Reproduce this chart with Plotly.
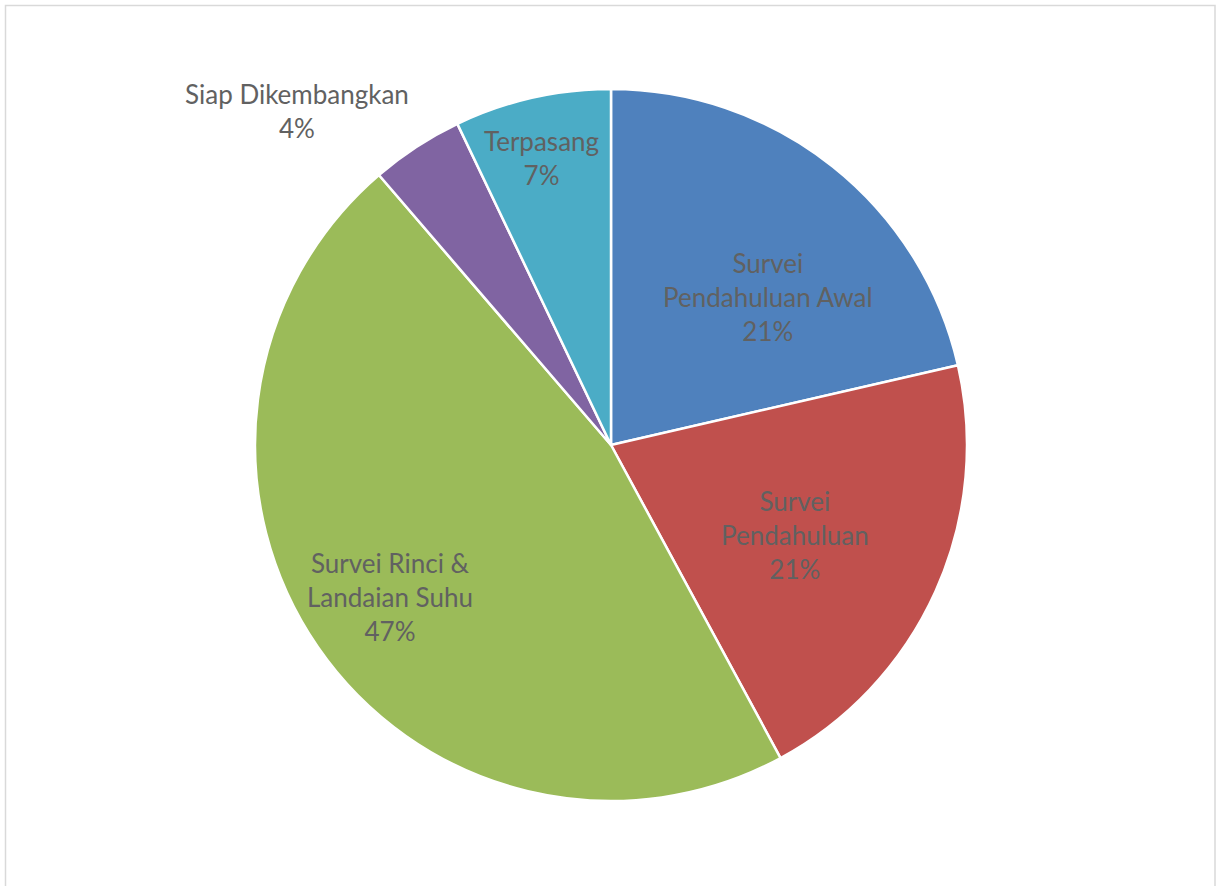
import plotly.graph_objects as go

# Pie data
categories = [
    "Survei Pendahuluan Awal",
    "Survei Pendahuluan",
    "Survei Rinci & Landaian Suhu",
    "Siap Dikembangkan",
    "Terpasang",
]
label_lines = [
    "Survei<br>Pendahuluan Awal",
    "Survei<br>Pendahuluan",
    "Survei Rinci &<br>Landaian Suhu",
    "Siap Dikembangkan",
    "Terpasang",
]
values = [21.4, 20.7, 46.6, 4.2, 7.1]
colors = ["#4F81BD", "#C0504D", "#9BBB59", "#8064A2", "#4BACC6"]

W, H = 1216, 886
# label centres in pixel space
label_pos = [(768, 297), (795, 535), (390, 597), (297, 111), (541, 158)]

total = sum(values)
cx, cy, r = 611, 445, 356

fig = go.Figure(
    go.Pie(
        labels=categories,
        values=values,
        sort=False,
        direction="clockwise",
        rotation=0,
        marker=dict(colors=colors, line=dict(color="white", width=2.5)),
        textinfo="none",
        hoverinfo="label+percent",
        showlegend=False,
        domain=dict(x=[(cx - r) / W, (cx + r) / W], y=[1 - (cy + r) / H, 1 - (cy - r) / H]),
    )
)

for text, v, (px, py) in zip(label_lines, values, label_pos):
    fig.add_annotation(
        x=px / W,
        y=1 - py / H,
        xref="paper",
        yref="paper",
        text=f"{text}<br>{round(100 * v / total)}%",
        showarrow=False,
        xanchor="center",
        yanchor="middle",
        font=dict(family="Lato, Open Sans, sans-serif", size=26, color="#616161"),
    )

fig.add_shape(
    type="rect",
    xref="paper",
    yref="paper",
    x0=5.5 / W,
    x1=1215 / W,
    y0=-0.02,
    y1=1 - 5.5 / H,
    line=dict(color="#D9D9D9", width=1.5),
    fillcolor="rgba(0,0,0,0)",
)

fig.update_layout(
    width=W,
    height=H,
    margin=dict(l=0, r=0, t=0, b=0),
    paper_bgcolor="white",
    plot_bgcolor="white",
)

fig.write_html("out.html")
